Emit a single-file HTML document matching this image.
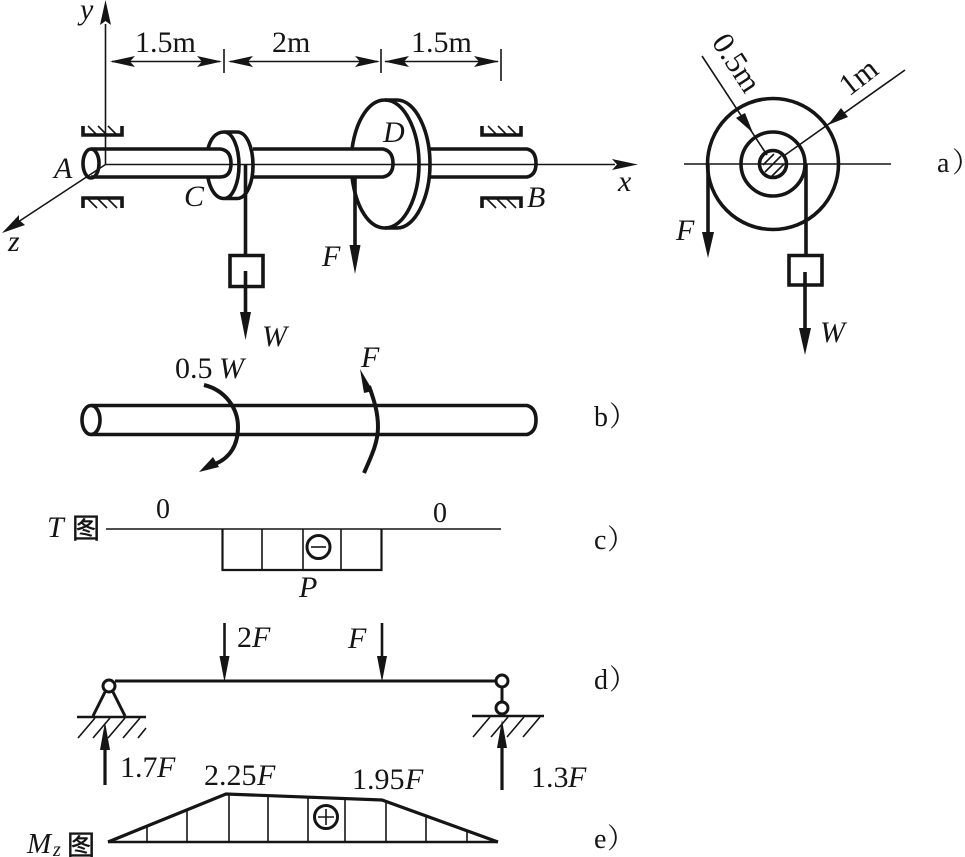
<!DOCTYPE html>
<html><head><meta charset="utf-8"><style>
html,body{margin:0;padding:0;background:#fff}
svg{display:block}
text{font-family:"Liberation Serif","Noto Serif CJK SC",serif;fill:#151515;font-size:30px}
.i{font-style:italic}
.l{font-size:28px}
.c{font-family:"Noto Serif CJK SC","Liberation Serif",serif;font-size:28px}
.g{font-family:"Noto Sans CJK SC",sans-serif;font-size:28px;stroke:#151515;stroke-width:.4}
.t{stroke:#151515;stroke-width:1.6;fill:none}
.m{stroke:#151515;stroke-width:2.2;fill:none}
.k{stroke:#151515;stroke-width:3.6;fill:none}
.h{fill:#151515;stroke:none}
</style></head><body>
<svg width="965" height="857" viewBox="0 0 965 857" xmlns="http://www.w3.org/2000/svg">
<!-- Figure a: axes -->
<path class="t" d="M105.500 24V164.500H615M105.500 164.500L18 222"/>
<polygon class="h" points="105.500,0 100,25 105.500,21 111,25"/>
<polygon class="h" points="638,164.500 612,159 617,164.500 612,170"/>
<polygon class="h" points="2,233 19,215 19,220 25,225"/>
<!-- bearings -->
<path class="k" d="M83 126V135H122V126M83 208V198H122V208M482 126V135H521V126M482 208V198H521V208"/>
<path class="t" d="M88 126L97 135M98 126L107 135M108 126L117 135M88 199L97 208M98 199L107 208M108 199L117 208M488 126L497 135M498 126L507 135M508 126L517 135M487 199L496 208M497 199L506 208M507 199L516 208"/>
<!-- dimensions -->
<path class="t" d="M112 61.500H220M230 61.500H378M385 61.500H498M224 49V73M381 49V73M501 49V81" />
<g class="h">
<polygon points="110,61.500 135,56 130,61.500 135,67"/><polygon points="222,61.500 197,56 202,61.500 197,67"/>
<polygon points="228,61.500 253,56 248,61.500 253,67"/><polygon points="380,61.500 355,56 360,61.500 355,67"/>
<polygon points="384,61.500 409,56 404,61.500 409,67"/><polygon points="499,61.500 474,56 479,61.500 474,67"/>
</g>
<!-- shaft left -->
<ellipse class="k" cx="91" cy="163.500" rx="8" ry="14.500"/>
<path class="k" d="M91 149H220Q231 150 231 163.500Q231 177 220 177H91"/>
<!-- pulley C -->
<path class="k" d="M224 132C215 132 210 140 208 149M208 178C210 188 215 198.500 224 198.500H237C247 198.500 253 182 253 165.500C253 148 247 132 237 132H224C233 132 239 148 239 165.500C239 182 233 198.500 224 198.500"/>
<path class="k" d="M253 149H352M253 177H352"/>
<path class="k" d="M352 149H383Q393 151 393 163.500Q393 175 383 177H352"/>
<path class="k" d="M245.500 165V255"/>
<path class="k" d="M230 255.500H263V286.500H230Z"/>
<path class="k" d="M245.500 271V315"/>
<polygon class="h" points="245.500,340 240,312 251,312"/>
<!-- disc D -->
<path class="k" d="M352 149C356 120 369 100 385 100C405 100 419 132 419 164C419 196 405 228 385 228C369 228 356 208 352 177"/>
<path class="k" d="M385 100H397C416 100 430 132 430 164C430 196 416 228 397 228H385"/>
<path class="k" d="M430 149H527Q536 151 536 163.500Q536 175 527 177H430"/>
<path class="t" d="M393 164.500H430"/>
<path class="k" d="M355 178V250"/>
<polygon class="h" points="355,274 349.500,245 360.500,245"/>
<text x="135" y="52">1.5m</text>
<text x="272" y="52">2m</text>
<text x="411" y="52">1.5m</text>
<text class="i" x="80" y="19">y</text>
<text class="i" x="54" y="178">A</text>
<text class="i" x="184" y="206">C</text>
<text class="i" x="8" y="251">z</text>
<text class="i" x="383" y="142">D</text>
<text class="i" x="527" y="207">B</text>
<text class="i" x="618" y="191">x</text>
<text class="i" x="322" y="266">F</text>
<text class="i" x="262" y="346">W</text>
<!-- Figure a right -->
<path class="t" d="M684 164H891"/>
<circle class="k" cx="773" cy="164" r="65.500"/>
<circle class="k" cx="773" cy="164" r="32"/>
<circle class="k" cx="773" cy="164" r="13.500"/>
<path class="t" d="M765 172L781 156M763 165L774 154M772 176L784 164"/>
<path class="t" d="M702 56L767 155M905 70L785 155"/>
<polygon class="h" points="753,133 736,118 745,113"/>
<polygon class="h" points="828,125 841,108 848,117"/>
<path class="k" d="M708 165V240"/>
<polygon class="h" points="708,258 702,232 714,232"/>
<path class="k" d="M806 164V255"/>
<path class="k" d="M789 255.500H822V285H789Z"/>
<path class="k" d="M805 272V335"/>
<polygon class="h" points="805,355 799,328 811,328"/>
<text transform="translate(711,42) rotate(57)" style="font-size:31px">0.5m</text>
<text transform="translate(849,97) rotate(-38)" style="font-size:31px">1m</text>
<text class="i" x="676" y="240">F</text>
<text class="i" x="820" y="342">W</text>
<text class="l" x="937" y="172">a</text><text class="c" x="952" y="172">）</text>
<!-- Figure b -->
<ellipse class="k" cx="91" cy="420" rx="9" ry="14.500"/>
<path class="k" d="M91 405.500H527Q536 408 536 420Q536 432 527 434.500H91"/>
<path d="M204 385C225 390 238 408 238 427C238 445 230 458 215 464" style="stroke:#151515;stroke-width:4;fill:none"/>
<polygon class="h" points="199,472 213,457 219,467"/>
<path d="M364 473C372 455 378 442 378 427C378 412 374 400 369 386" style="stroke:#151515;stroke-width:4;fill:none"/>
<polygon class="h" points="360,369 373,391 364,393"/>
<text x="175" y="378">0.5</text><text class="i" x="219" y="378">W</text>
<text class="i" x="361" y="367">F</text>
<text class="l" x="594" y="426">b</text><text class="c" x="609" y="426">）</text>
<!-- Figure c -->
<path class="t" d="M106 529H501"/>
<path class="m" d="M222.500 529V570H381.500V529"/>
<path class="t" d="M262 529V570M303 529V570M341 529V570"/>
<circle class="m" cx="318.500" cy="547" r="11.500" style="stroke-width:3"/>
<path class="t" d="M311 547H326"/>
<text class="l" x="156" y="518">0</text>
<text class="l" x="433" y="522">0</text>
<text class="i" x="47" y="537">T</text>
<text class="g" x="72" y="538">图</text>
<text class="i" x="299" y="597">P</text>
<text class="l" x="594" y="549">c</text><text class="c" x="607" y="549">）</text>
<!-- Figure d -->
<path class="m" d="M115 681H496" style="stroke-width:3"/>
<circle class="m" cx="109" cy="686" r="6" style="stroke-width:3"/>
<path class="m" d="M105 692L93 716M113 692L125 716" style="stroke-width:3"/>
<path class="k" d="M77 717H146M472 716H544" style="stroke-width:2.600"/>
<path class="t" d="M78 738L95 718M93 738L110 718M108 738L125 718M123 738L140 718M138 738L146 728M473 737L490 717M491 737L508 717M507 737L524 717M523 737L540 717"/>
<circle class="m" cx="502" cy="681" r="6" style="stroke-width:3"/>
<circle class="m" cx="502" cy="708" r="6" style="stroke-width:3"/>
<path class="m" d="M502 687V702" style="stroke-width:3"/>
<path class="m" d="M224.500 623V660M382 623V660" style="stroke-width:2.600"/>
<polygon class="h" points="224.500,682 219.500,656 229.500,656"/>
<polygon class="h" points="382,682 377,656 387,656"/>
<path class="m" d="M105 785V745M502 790V745" style="stroke-width:3.200"/>
<polygon class="h" points="105,722 100,750 110,750"/>
<polygon class="h" points="502,720 497,748 507,748"/>
<text x="237" y="647">2</text><text class="i" x="252" y="647">F</text>
<text class="i" x="348" y="648">F</text>
<text x="120" y="777">1.7</text><text class="i" x="157" y="777">F</text>
<text x="531" y="787">1.3</text><text class="i" x="568" y="787">F</text>
<text x="204" y="785">2.25</text><text class="i" x="257" y="785">F</text>
<text x="352" y="789">1.95</text><text class="i" x="405" y="789">F</text>
<text class="l" x="594" y="689">d</text><text class="c" x="609" y="689">）</text>
<!-- Figure e -->
<path class="m" d="M108 842H498" style="stroke-width:2.600"/>
<path class="m" d="M108 842L226 794L382 800L498 842" style="stroke-width:3.200"/>
<path class="t" d="M147 842V826M187 842V810M229 842V794M268 842V796M308 842V797M345 842V799M386 842V801M426 842V816M467 842V831"/>
<circle class="m" cx="326" cy="817" r="11.500" style="stroke-width:3"/>
<path class="t" d="M326 809V825M318 817H334"/>
<text class="i" x="27" y="853" style="font-size:29px">M</text><text class="i" x="53" y="856" style="font-size:20px">z</text>
<text class="g" x="67" y="855">图</text>
<text class="l" x="594" y="848">e</text><text class="c" x="607" y="848">）</text>
</svg>
</body></html>
